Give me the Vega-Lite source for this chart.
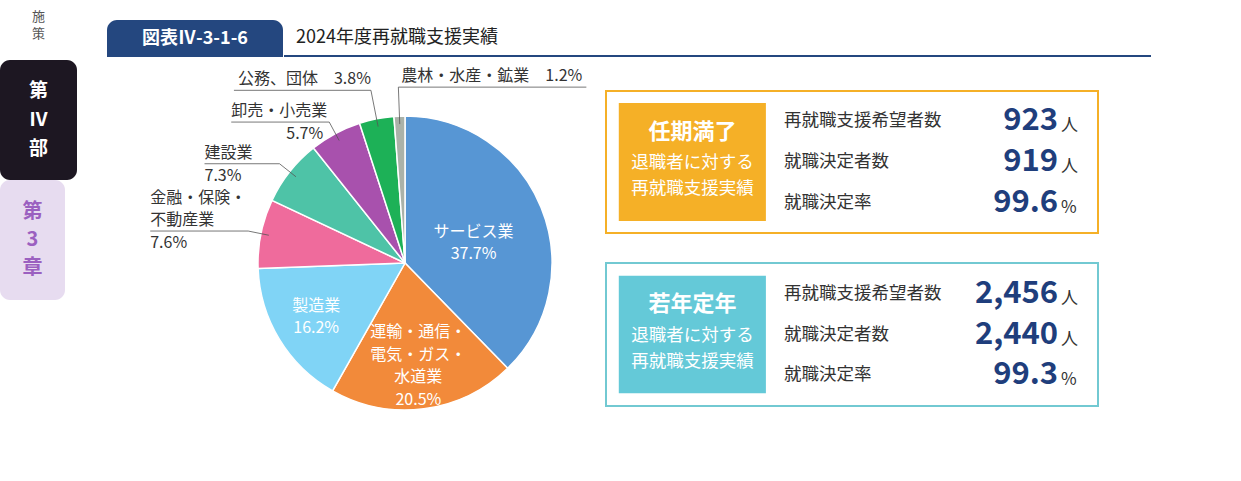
{
  "$schema": "https://vega.github.io/schema/vega-lite/v6.json",
  "background": "white",
  "padding": 0,
  "config": {
    "view": {"stroke": null},
    "font": "Noto Sans CJK JP",
    "text": {"lineBreak": "\n"},
    "concat": {"spacing": 0}
  },
  "datasets": {
    "shares": [
      {"industry": "サービス業", "label": "サービス業", "share": 37.7},
      {"industry": "運輸・通信・電気・ガス・水道業", "label": "運輸・通信・\n電気・ガス・\n水道業", "share": 20.5},
      {"industry": "製造業", "label": "製造業", "share": 16.2},
      {"industry": "金融・保険・不動産業", "label": "金融・保険・\n不動産業", "share": 7.6},
      {"industry": "建設業", "label": "建設業", "share": 7.3},
      {"industry": "卸売・小売業", "label": "卸売・小売業", "share": 5.7},
      {"industry": "公務、団体", "label": "公務、団体", "share": 3.8},
      {"industry": "農林・水産・鉱業", "label": "農林・水産・鉱業", "share": 1.2}
    ],
    "support": [
      {"group": "任期満了", "item": "再就職支援希望者数", "value": 923, "unit": "人"},
      {"group": "任期満了", "item": "就職決定者数", "value": 919, "unit": "人"},
      {"group": "任期満了", "item": "就職決定率", "value": 99.6, "unit": "%"},
      {"group": "若年定年", "item": "再就職支援希望者数", "value": 2456, "unit": "人"},
      {"group": "若年定年", "item": "就職決定者数", "value": 2440, "unit": "人"},
      {"group": "若年定年", "item": "就職決定率", "value": 99.3, "unit": "%"}
    ]
  },
  "spacing": 30,
  "hconcat": [
    {
      "spacing": 0,
      "vconcat": [
        {
          "width": 77, "height": 60,
          "data": {"values": [{}]},
          "mark": {"type": "text", "fontSize": 13, "lineHeight": 17, "color": "#555", "dy": -13},
          "encoding": {"text": {"value": "施\n策"}}
        },
        {
          "width": 77, "height": 120,
          "view": {"fill": "#1d1722", "cornerRadius": 10},
          "data": {"values": [{}]},
          "mark": {"type": "text", "color": "white", "fontWeight": "bold", "fontSize": 19, "lineHeight": 29, "dy": -29},
          "encoding": {"text": {"value": "第\nⅣ\n部"}}
        },
        {
          "width": 65, "height": 120,
          "view": {"fill": "#e7dcf0", "cornerRadius": 10},
          "data": {"values": [{}]},
          "mark": {"type": "text", "color": "#9b60c0", "fontWeight": "bold", "fontSize": 20, "lineHeight": 28, "dy": -28},
          "encoding": {"text": {"value": "第\n3\n章"}}
        }
      ]
    },
    {
      "spacing": 0,
      "vconcat": [
        {
          "width": 10, "height": 20,
          "data": {"values": []},
          "mark": "text",
          "encoding": {}
        },
        {
          "spacing": 0,
          "hconcat": [
            {
              "width": 176, "height": 37,
              "data": {"values": [{}]},
              "layer": [
                {
                  "mark": {"type": "rect", "color": "#24477f", "cornerRadiusTopLeft": 10, "cornerRadiusTopRight": 10},
                  "encoding": {}
                },
                {
                  "mark": {"type": "text", "color": "white", "fontSize": 18, "fontWeight": "bold"},
                  "encoding": {"text": {"value": "図表Ⅳ-3-1-6"}}
                }
              ]
            },
            {
              "width": 867, "height": 36,
              "data": {"values": [{}]},
              "layer": [
                {
                  "mark": {"type": "text", "align": "left", "fontSize": 18, "color": "#222", "dx": 12},
                  "encoding": {
                    "x": {"datum": 0, "type": "quantitative", "scale": {"domain": [0, 1]}, "axis": null},
                    "text": {"value": "2024年度再就職支援実績"}
                  }
                },
                {
                  "mark": {"type": "rule", "color": "#24477f", "strokeWidth": 2},
                  "encoding": {
                    "y": {"datum": 0, "type": "quantitative", "scale": {"domain": [0, 1]}, "axis": null}
                  }
                }
              ]
            }
          ]
        },
        {
          "spacing": 5,
          "hconcat": [
            {
              "width": 493, "height": 412,
              "data": {"name": "shares"},
              "transform": [
                {"window": [{"op": "sum", "field": "share", "as": "cum"}], "sort": [{"field": "share", "order": "descending"}], "frame": [null, 0]},
                {"calculate": "(datum.cum - datum.share / 2) / 100 * 2 * PI", "as": "mid"},
                {"calculate": "indexof(['公務、団体', '農林・水産・鉱業'], datum.industry) >= 0", "as": "top"},
                {"calculate": "datum.top ? 176 : 160", "as": "r2"},
                {"calculate": "139 * sin(datum.mid)", "as": "x1"},
                {"calculate": "139 * cos(datum.mid)", "as": "y1"},
                {"calculate": "datum.r2 * sin(datum.mid)", "as": "xe"},
                {"calculate": "datum.r2 * cos(datum.mid)", "as": "ye"},
                {"calculate": "length(split(datum.label, '\\n'))", "as": "nl"},
                {"calculate": "datum.top ? length(datum.label) * 17 + 52 : max(75, (indexof(datum.label, '\\n') < 0 ? length(datum.label) : indexof(datum.label, '\\n')) * 16 + 2)", "as": "L"},
                {"calculate": "datum.industry === '農林・水産・鉱業' ? datum.xe + datum.L : datum.xe - datum.L", "as": "xl"},
                {"calculate": "datum.ye + 3 + (datum.nl - 1) * 22", "as": "yname"},
                {"calculate": "datum.ye - 4", "as": "ypct"},
                {"calculate": "format(datum.share, '.1f') + '%'", "as": "pct"},
                {"calculate": "datum.label + '\\n' + datum.pct", "as": "inside"},
                {"calculate": "datum.label + '　' + datum.pct", "as": "oneline"},
                {"calculate": "datum.industry === 'サービス業' ? 74 : 104", "as": "ri"},
                {"calculate": "datum.ri * sin(datum.mid)", "as": "xi"},
                {"calculate": "datum.ri * cos(datum.mid) + datum.nl * 11.25 - (datum.industry === 'サービス業' ? 8 : 0)", "as": "yi"}
              ],
              "layer": [
                {
                  "mark": {"type": "arc", "outerRadius": 147, "stroke": "white", "strokeWidth": 1.5},
                  "encoding": {
                    "x": {"datum": 0, "type": "quantitative", "scale": {"domain": [-298, 195], "nice": false, "zero": false}, "axis": null},
                    "y": {"datum": 0, "type": "quantitative", "scale": {"domain": [-206, 206], "nice": false, "zero": false}, "axis": null},
                    "theta": {"field": "share", "type": "quantitative", "stack": true},
                    "order": {"field": "share", "sort": "descending"},
                    "color": {
                      "field": "industry", "type": "nominal", "legend": null,
                      "scale": {
                        "domain": ["サービス業", "運輸・通信・電気・ガス・水道業", "製造業", "金融・保険・不動産業", "建設業", "卸売・小売業", "公務、団体", "農林・水産・鉱業"],
                        "range": ["#5796d4", "#f28a3a", "#80d4f6", "#ef6b9c", "#4ec3a7", "#a851ad", "#1db157", "#aab2a9"]
                      }
                    }
                  }
                },
                {
                  "transform": [{"filter": "datum.share > 10"}],
                  "mark": {"type": "text", "color": "white", "fontSize": 16, "lineHeight": 22.5, "baseline": "middle"},
                  "encoding": {
                    "x": {"field": "xi", "type": "quantitative", "scale": {"domain": [-298, 195], "nice": false, "zero": false}, "axis": null},
                    "y": {"field": "yi", "type": "quantitative", "scale": {"domain": [-206, 206], "nice": false, "zero": false}, "axis": null},
                    "text": {"field": "inside"}
                  }
                },
                {
                  "transform": [{"filter": "datum.share < 10"}],
                  "mark": {"type": "rule", "color": "#555", "strokeWidth": 0.8},
                  "encoding": {
                    "x": {"field": "x1", "type": "quantitative", "scale": {"domain": [-298, 195], "nice": false, "zero": false}, "axis": null},
                    "y": {"field": "y1", "type": "quantitative", "scale": {"domain": [-206, 206], "nice": false, "zero": false}, "axis": null},
                    "x2": {"field": "xe"},
                    "y2": {"field": "ye"}
                  }
                },
                {
                  "transform": [{"filter": "datum.share < 10"}],
                  "mark": {"type": "rule", "color": "#555", "strokeWidth": 0.8},
                  "encoding": {
                    "x": {"field": "xe", "type": "quantitative", "scale": {"domain": [-298, 195], "nice": false, "zero": false}, "axis": null},
                    "y": {"field": "ye", "type": "quantitative", "scale": {"domain": [-206, 206], "nice": false, "zero": false}, "axis": null},
                    "x2": {"field": "xl"}
                  }
                },
                {
                  "transform": [{"filter": "datum.share < 10 && !datum.top"}],
                  "mark": {"type": "text", "align": "left", "baseline": "bottom", "fontSize": 16, "lineHeight": 22, "color": "#333"},
                  "encoding": {
                    "x": {"field": "xl", "type": "quantitative", "scale": {"domain": [-298, 195], "nice": false, "zero": false}, "axis": null},
                    "y": {"field": "yname", "type": "quantitative", "scale": {"domain": [-206, 206], "nice": false, "zero": false}, "axis": null},
                    "text": {"field": "label"}
                  }
                },
                {
                  "transform": [{"filter": "datum.share < 10 && !datum.top && datum.industry !== '卸売・小売業'"}],
                  "mark": {"type": "text", "align": "left", "baseline": "top", "fontSize": 16, "color": "#333"},
                  "encoding": {
                    "x": {"field": "xl", "type": "quantitative", "scale": {"domain": [-298, 195], "nice": false, "zero": false}, "axis": null},
                    "y": {"field": "ypct", "type": "quantitative", "scale": {"domain": [-206, 206], "nice": false, "zero": false}, "axis": null},
                    "text": {"field": "pct"}
                  }
                },
                {
                  "transform": [{"filter": "datum.industry === '卸売・小売業'"}],
                  "mark": {"type": "text", "align": "right", "baseline": "top", "fontSize": 16, "color": "#333", "dx": -6},
                  "encoding": {
                    "x": {"field": "xe", "type": "quantitative", "scale": {"domain": [-298, 195], "nice": false, "zero": false}, "axis": null},
                    "y": {"field": "ypct", "type": "quantitative", "scale": {"domain": [-206, 206], "nice": false, "zero": false}, "axis": null},
                    "text": {"field": "pct"}
                  }
                },
                {
                  "transform": [{"filter": "datum.industry === '公務、団体'"}],
                  "mark": {"type": "text", "align": "right", "baseline": "bottom", "dy": -3, "fontSize": 16, "color": "#333"},
                  "encoding": {
                    "x": {"field": "xe", "type": "quantitative", "scale": {"domain": [-298, 195], "nice": false, "zero": false}, "axis": null},
                    "y": {"field": "ye", "type": "quantitative", "scale": {"domain": [-206, 206], "nice": false, "zero": false}, "axis": null},
                    "text": {"field": "oneline"}
                  }
                },
                {
                  "transform": [{"filter": "datum.industry === '農林・水産・鉱業'"}],
                  "mark": {"type": "text", "align": "left", "baseline": "bottom", "dy": -3, "dx": 3, "fontSize": 16, "color": "#333"},
                  "encoding": {
                    "x": {"field": "xe", "type": "quantitative", "scale": {"domain": [-298, 195], "nice": false, "zero": false}, "axis": null},
                    "y": {"field": "ye", "type": "quantitative", "scale": {"domain": [-206, 206], "nice": false, "zero": false}, "axis": null},
                    "text": {"field": "oneline"}
                  }
                }
              ]
            },
            {
              "spacing": 28,
              "vconcat": [
                {
                  "width": 10, "height": 5,
                  "data": {"values": []},
                  "mark": "text",
                  "encoding": {}
                },
                {
                  "width": 492, "height": 142,
                  "view": {"stroke": "#f5b027", "strokeWidth": 2, "fill": "white"},
                  "data": {"name": "support"},
                  "transform": [
                    {"filter": "datum.group === '任期満了'"},
                    {"calculate": "datum.unit === '%' ? format(datum.value, '.1f') : format(datum.value, ',d')", "as": "shown"}
                  ],
                  "resolve": {"scale": {"y": "independent"}},
                  "layer": [
                    {
                      "transform": [{"aggregate": [{"op": "count", "as": "n"}], "groupby": ["group"]}],
                      "mark": {"type": "rect", "color": "#f5b027"},
                      "encoding": {
                        "x": {"datum": 0.026, "type": "quantitative", "scale": {"domain": [0, 1]}, "axis": null},
                        "x2": {"datum": 0.325},
                        "y": {"datum": 0.085, "type": "quantitative", "scale": {"domain": [0, 1]}, "axis": null},
                        "y2": {"datum": 0.915}
                      }
                    },
                    {
                      "transform": [{"aggregate": [{"op": "count", "as": "n"}], "groupby": ["group"]}],
                      "mark": {"type": "text", "color": "white", "fontWeight": "bold", "fontSize": 22},
                      "encoding": {
                        "x": {"datum": 0.176, "type": "quantitative", "scale": {"domain": [0, 1]}, "axis": null},
                        "y": {"datum": 0.711, "type": "quantitative", "scale": {"domain": [0, 1]}, "axis": null},
                        "text": {"field": "group"}
                      }
                    },
                    {
                      "transform": [{"aggregate": [{"op": "count", "as": "n"}], "groupby": ["group"]}],
                      "mark": {"type": "text", "color": "white", "fontSize": 17.5, "lineHeight": 26},
                      "encoding": {
                        "x": {"datum": 0.176, "type": "quantitative", "scale": {"domain": [0, 1]}, "axis": null},
                        "y": {"datum": 0.493, "type": "quantitative", "scale": {"domain": [0, 1]}, "axis": null},
                        "text": {"value": "退職者に対する\n再就職支援実績"}
                      }
                    },
                    {
                      "mark": {"type": "text", "align": "left", "fontSize": 17.5, "color": "#333"},
                      "encoding": {
                        "x": {"datum": 0.362, "type": "quantitative", "scale": {"domain": [0, 1]}, "axis": null},
                        "y": {"field": "item", "type": "nominal", "sort": null, "scale": {"type": "point", "padding": 0.75}, "axis": null},
                        "text": {"field": "item"}
                      }
                    },
                    {
                      "mark": {"type": "text", "align": "right", "fontSize": 31, "fontWeight": "bold", "color": "#1f3e7c"},
                      "encoding": {
                        "x": {"datum": 0.919, "type": "quantitative", "scale": {"domain": [0, 1]}, "axis": null},
                        "y": {"field": "item", "type": "nominal", "sort": null, "scale": {"type": "point", "padding": 0.75}, "axis": null},
                        "text": {"field": "shown"}
                      }
                    },
                    {
                      "mark": {"type": "text", "align": "left", "fontSize": 17, "color": "#333", "dy": 5},
                      "encoding": {
                        "x": {"datum": 0.925, "type": "quantitative", "scale": {"domain": [0, 1]}, "axis": null},
                        "y": {"field": "item", "type": "nominal", "sort": null, "scale": {"type": "point", "padding": 0.75}, "axis": null},
                        "text": {"field": "unit"}
                      }
                    }
                  ]
                },
                {
                  "width": 492, "height": 143,
                  "view": {"stroke": "#72c9d2", "strokeWidth": 2, "fill": "white"},
                  "data": {"name": "support"},
                  "transform": [
                    {"filter": "datum.group === '若年定年'"},
                    {"calculate": "datum.unit === '%' ? format(datum.value, '.1f') : format(datum.value, ',d')", "as": "shown"}
                  ],
                  "resolve": {"scale": {"y": "independent"}},
                  "layer": [
                    {
                      "transform": [{"aggregate": [{"op": "count", "as": "n"}], "groupby": ["group"]}],
                      "mark": {"type": "rect", "color": "#64c9d8"},
                      "encoding": {
                        "x": {"datum": 0.026, "type": "quantitative", "scale": {"domain": [0, 1]}, "axis": null},
                        "x2": {"datum": 0.325},
                        "y": {"datum": 0.09, "type": "quantitative", "scale": {"domain": [0, 1]}, "axis": null},
                        "y2": {"datum": 0.91}
                      }
                    },
                    {
                      "transform": [{"aggregate": [{"op": "count", "as": "n"}], "groupby": ["group"]}],
                      "mark": {"type": "text", "color": "white", "fontWeight": "bold", "fontSize": 22},
                      "encoding": {
                        "x": {"datum": 0.176, "type": "quantitative", "scale": {"domain": [0, 1]}, "axis": null},
                        "y": {"datum": 0.713, "type": "quantitative", "scale": {"domain": [0, 1]}, "axis": null},
                        "text": {"field": "group"}
                      }
                    },
                    {
                      "transform": [{"aggregate": [{"op": "count", "as": "n"}], "groupby": ["group"]}],
                      "mark": {"type": "text", "color": "white", "fontSize": 17.5, "lineHeight": 26},
                      "encoding": {
                        "x": {"datum": 0.176, "type": "quantitative", "scale": {"domain": [0, 1]}, "axis": null},
                        "y": {"datum": 0.49, "type": "quantitative", "scale": {"domain": [0, 1]}, "axis": null},
                        "text": {"value": "退職者に対する\n再就職支援実績"}
                      }
                    },
                    {
                      "mark": {"type": "text", "align": "left", "fontSize": 17.5, "color": "#333"},
                      "encoding": {
                        "x": {"datum": 0.362, "type": "quantitative", "scale": {"domain": [0, 1]}, "axis": null},
                        "y": {"field": "item", "type": "nominal", "sort": null, "scale": {"type": "point", "padding": 0.75}, "axis": null},
                        "text": {"field": "item"}
                      }
                    },
                    {
                      "mark": {"type": "text", "align": "right", "fontSize": 31, "fontWeight": "bold", "color": "#1f3e7c"},
                      "encoding": {
                        "x": {"datum": 0.919, "type": "quantitative", "scale": {"domain": [0, 1]}, "axis": null},
                        "y": {"field": "item", "type": "nominal", "sort": null, "scale": {"type": "point", "padding": 0.75}, "axis": null},
                        "text": {"field": "shown"}
                      }
                    },
                    {
                      "mark": {"type": "text", "align": "left", "fontSize": 17, "color": "#333", "dy": 5},
                      "encoding": {
                        "x": {"datum": 0.925, "type": "quantitative", "scale": {"domain": [0, 1]}, "axis": null},
                        "y": {"field": "item", "type": "nominal", "sort": null, "scale": {"type": "point", "padding": 0.75}, "axis": null},
                        "text": {"field": "unit"}
                      }
                    }
                  ]
                }
              ]
            }
          ]
        }
      ]
    }
  ]
}
